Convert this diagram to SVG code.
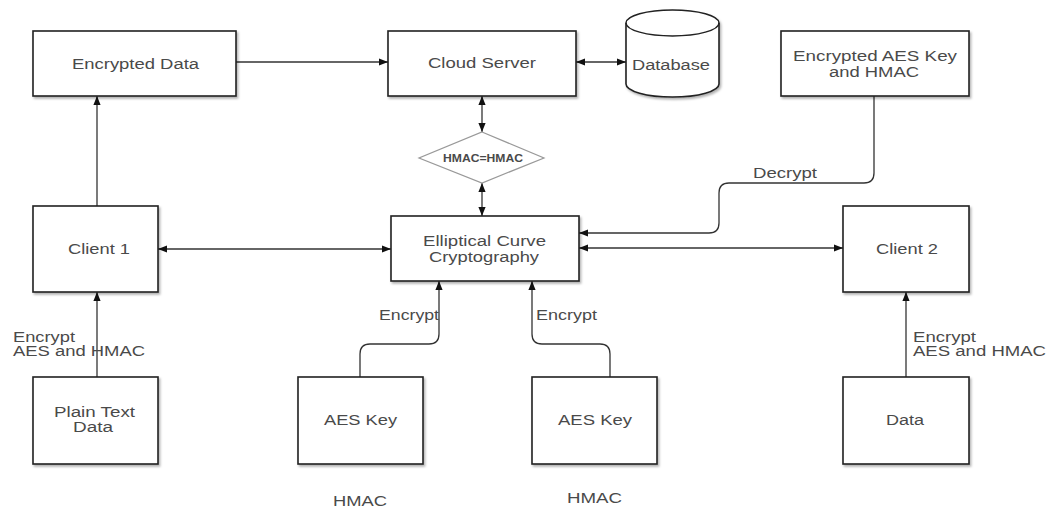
<svg xmlns="http://www.w3.org/2000/svg" width="1047" height="510" viewBox="0 0 1047 510">
<defs>
<marker id="ah" viewBox="0 0 10 10" refX="10" refY="5" markerWidth="9" markerHeight="9" markerUnits="userSpaceOnUse" orient="auto-start-reverse">
<path d="M0,1 L10,5 L0,9 z" fill="#111"/>
</marker>
<filter id="sh" x="-5%" y="-5%" width="115%" height="120%">
<feDropShadow dx="1.5" dy="2" stdDeviation="1" flood-color="#000" flood-opacity="0.3"/>
</filter>
</defs>
<style>
.box{fill:#fff;stroke:#222;stroke-width:1.6;filter:url(#sh)}
.t{font-family:"Liberation Sans",Arial,sans-serif;font-size:14px;fill:#4a4a4a;text-anchor:middle}
.l{font-family:"Liberation Sans",Arial,sans-serif;font-size:14px;fill:#4a4a4a}
.c{fill:none;stroke:#333;stroke-width:1.3}
.d{fill:#fff;stroke:#999;stroke-width:1.2}
</style>
<rect width="1047" height="510" fill="#fff"/>

<g id="connectors">
<path class="c" d="M236,62 H388" marker-end="url(#ah)"/>
<path class="c" d="M576,62 H626" marker-start="url(#ah)" marker-end="url(#ah)"/>
<path class="c" d="M482,96 V132" marker-start="url(#ah)" marker-end="url(#ah)"/>
<path class="c" d="M482,183 V216" marker-start="url(#ah)" marker-end="url(#ah)"/>
<path class="c" d="M97,206 V96" marker-end="url(#ah)"/>
<path class="c" d="M158,249 H391" marker-start="url(#ah)" marker-end="url(#ah)"/>
<path class="c" d="M579,248 H843" marker-start="url(#ah)" marker-end="url(#ah)"/>
<path class="c" d="M97,377 V292" marker-end="url(#ah)"/>
<path class="c" d="M906,377 V292" marker-end="url(#ah)"/>
<path class="c" d="M360,377 V354 Q360,344 370,344 H429 Q439,344 439,334 V281" marker-end="url(#ah)"/>
<path class="c" d="M610,377 V354 Q610,344 600,344 H542 Q532,344 532,334 V281" marker-end="url(#ah)"/>
<path class="c" d="M874,96 V173 Q874,183 864,183 H729 Q719,183 719,193 V223 Q719,233 709,233 H579" marker-end="url(#ah)"/>
<text class="l" x="753" y="178" textLength="64" lengthAdjust="spacingAndGlyphs">Decrypt</text>
<text class="l" x="379" y="320" textLength="60" lengthAdjust="spacingAndGlyphs">Encrypt</text>
<text class="l" x="536" y="320" textLength="61" lengthAdjust="spacingAndGlyphs">Encrypt</text>
<text class="l" x="13" y="342" textLength="62" lengthAdjust="spacingAndGlyphs">Encrypt</text>
<text class="l" x="13" y="356" textLength="132" lengthAdjust="spacingAndGlyphs">AES and HMAC</text>
<text class="l" x="913" y="342" textLength="63" lengthAdjust="spacingAndGlyphs">Encrypt</text>
<text class="l" x="913" y="356" textLength="133" lengthAdjust="spacingAndGlyphs">AES and HMAC</text>
</g>

<g id="encrypted-data">
<rect class="box" x="33" y="31" width="203" height="65"/>
<text class="t" x="135.5" y="69" textLength="127" lengthAdjust="spacingAndGlyphs">Encrypted Data</text>
</g>
<g id="cloud-server">
<rect class="box" x="388" y="31" width="188" height="65"/>
<text class="t" x="482" y="68" textLength="108" lengthAdjust="spacingAndGlyphs">Cloud Server</text>
</g>
<g id="database">
<path class="box" d="M626,23 A46.5,13 0 0 1 719,23 V84 A46.5,13 0 0 1 626,84 Z"/>
<path fill="none" stroke="#222" stroke-width="1.4" d="M626,23 A46.5,13 0 0 0 719,23"/>
<text class="t" x="671" y="70" textLength="78" lengthAdjust="spacingAndGlyphs">Database</text>
</g>
<g id="encrypted-aes-key">
<rect class="box" x="781" y="31" width="188" height="65"/>
<text class="t" x="875" y="61" textLength="164" lengthAdjust="spacingAndGlyphs">Encrypted AES Key</text>
<text class="t" x="874" y="77" textLength="90" lengthAdjust="spacingAndGlyphs">and HMAC</text>
</g>
<g id="hmac-check">
<polygon class="d" points="482,132 544,158 482,183 419,158"/>
<text class="t" x="483" y="162" style="font-size:10px;font-weight:bold" textLength="80" lengthAdjust="spacingAndGlyphs">HMAC=HMAC</text>
</g>
<g id="client1">
<rect class="box" x="33" y="206" width="125" height="86"/>
<text class="t" x="99" y="254" textLength="62" lengthAdjust="spacingAndGlyphs">Client 1</text>
</g>
<g id="ecc">
<rect class="box" x="391" y="216" width="188" height="65"/>
<text class="t" x="484.5" y="246" textLength="123" lengthAdjust="spacingAndGlyphs">Elliptical Curve</text>
<text class="t" x="484" y="262" textLength="110" lengthAdjust="spacingAndGlyphs">Cryptography</text>
</g>
<g id="client2">
<rect class="box" x="843" y="206" width="126" height="86"/>
<text class="t" x="907" y="254" textLength="62" lengthAdjust="spacingAndGlyphs">Client 2</text>
</g>
<g id="plain-text-data">
<rect class="box" x="33" y="377" width="125" height="87"/>
<text class="t" x="94.5" y="417" textLength="81" lengthAdjust="spacingAndGlyphs">Plain Text</text>
<text class="t" x="93" y="432" textLength="40" lengthAdjust="spacingAndGlyphs">Data</text>
</g>
<g id="aes-key-1">
<rect class="box" x="298" y="377" width="125" height="87"/>
<text class="t" x="360.5" y="425" textLength="73" lengthAdjust="spacingAndGlyphs">AES Key</text>
</g>
<g id="aes-key-2">
<rect class="box" x="532" y="377" width="125" height="87"/>
<text class="t" x="595" y="425" textLength="74" lengthAdjust="spacingAndGlyphs">AES Key</text>
</g>
<g id="data">
<rect class="box" x="843" y="377" width="126" height="87"/>
<text class="t" x="905" y="425" textLength="38" lengthAdjust="spacingAndGlyphs">Data</text>
</g>
<text class="t" x="360" y="506" textLength="54" lengthAdjust="spacingAndGlyphs">HMAC</text>
<text class="t" x="594.5" y="503" textLength="55" lengthAdjust="spacingAndGlyphs">HMAC</text>
</svg>
